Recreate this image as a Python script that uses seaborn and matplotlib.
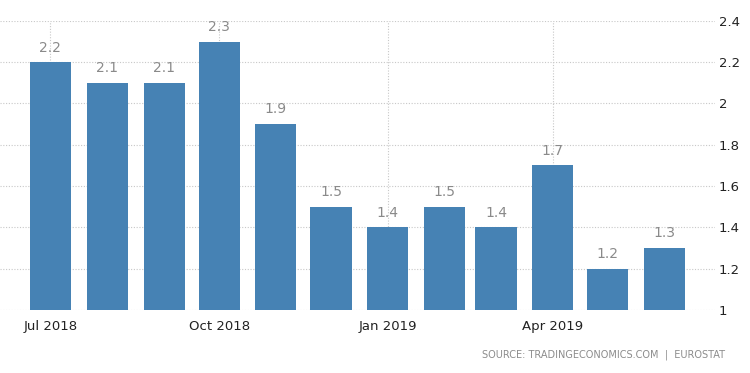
import datetime as dt
import matplotlib
matplotlib.use("Agg")
import matplotlib.pyplot as plt
import matplotlib.dates as mdates
import seaborn as sns
import pandas as pd

months = ["2018-07", "2018-08", "2018-09", "2018-10", "2018-11", "2018-12",
          "2019-01", "2019-02", "2019-03", "2019-04", "2019-05", "2019-06"]
values = [2.2, 2.1, 2.1, 2.3, 1.9, 1.5, 1.4, 1.5, 1.4, 1.7, 1.2, 1.3]
yticks = [1, 1.2, 1.4, 1.6, 1.8, 2, 2.2, 2.4]
source = "SOURCE: TRADINGECONOMICS.COM  |  EUROSTAT"

df = pd.DataFrame({
    "date": mdates.date2num(pd.to_datetime(months).to_pydatetime()),
    "value": values,
})

sns.set_style("white")
plt.rcParams["font.family"] = ["DejaVu Sans"]

fig = plt.figure(figsize=(7.5, 3.73), dpi=100)
ax = fig.add_axes([0.0, 0.169, 0.953, 0.775])

# bars sit on the first day of each month, width 0.8 of shortest month
sns.barplot(data=df, x="date", y="value", native_scale=True, orient="x",
            color="#4682b4", saturation=1, width=0.8, linewidth=0,
            ax=ax, zorder=2)

ax.bar_label(ax.containers[0], labels=[f"{v:g}" for v in values],
             padding=5.5, color="#8a8a8a", fontsize=10)

start = mdates.date2num(dt.datetime(2018, 7, 1))
ax.set_xlim(start - 27.5, start + 362.3)
ax.set_ylim(1, 2.4)

ax.xaxis.set_major_locator(mdates.MonthLocator(bymonth=[1, 4, 7, 10]))
ax.xaxis.set_major_formatter(mdates.DateFormatter("%b %Y"))
ax.set_yticks(yticks)
ax.set_yticklabels([f"{t:g}" for t in yticks])
ax.yaxis.tick_right()

ax.tick_params(axis="x", length=4, color="#cccccc", labelsize=9.5,
               labelcolor="#222222", pad=3)
ax.tick_params(axis="y", length=0, labelsize=9.5, labelcolor="#222222", pad=3)

ax.grid(True, axis="both", linestyle=(0, (1, 1.5)), color="#c8c8c8",
        linewidth=0.8, zorder=0)
ax.set_axisbelow(True)
for s in ax.spines.values():
    s.set_visible(False)
ax.set_xlabel("")
ax.set_ylabel("")

fig.text(0.967, 1 - 355 / 373, source, ha="right", va="center",
         fontsize=7, color="#8c8c8c")

fig.savefig("out.png", dpi=100)
